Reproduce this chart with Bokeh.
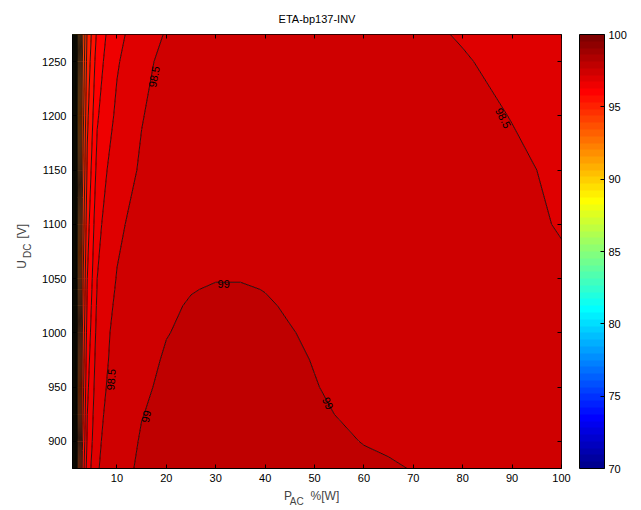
import numpy as np
from bokeh.plotting import figure
from bokeh.models import (Range1d, FixedTicker, LinearColorMapper, ColorBar,
                          Label, ColumnDataSource, LinearAxis)
from bokeh.core.properties import value
from bokeh.embed import file_html
from bokeh.resources import INLINE

# ---------------- data ----------------
title_text = "ETA-bp137-INV"
p_ac = [1, 2, 3, 4, 6, 8, 10, 15, 20, 25, 30, 35, 40, 45, 50, 55, 60, 65, 70, 80, 90, 100]
u_dc = [875, 900, 925, 950, 975, 1000, 1025, 1040, 1050, 1100, 1150, 1200, 1250, 1275]

eta_875 = [87.5, 94.2, 96.6, 97.75, 98.45, 98.7, 98.87, 99.06, 99.14, 99.18, 99.2, 99.2, 99.19, 99.16, 99.13, 99.1, 99.06, 99.03, 98.99, 98.93, 98.86, 98.79]
eta_900 = [87.3, 94.0, 96.45, 97.6, 98.4, 98.64, 98.82, 99.03, 99.12, 99.16, 99.18, 99.18, 99.16, 99.12, 99.08, 99.04, 98.99, 98.96, 98.94, 98.88, 98.81, 98.74]
eta_925 = [87.1, 93.8, 96.3, 97.5, 98.35, 98.58, 98.76, 98.99, 99.09, 99.14, 99.16, 99.15, 99.13, 99.09, 99.04, 98.99, 98.96, 98.93, 98.9, 98.83, 98.76, 98.69]
eta_950 = [87.0, 93.7, 96.2, 97.4, 98.28, 98.52, 98.72, 98.95, 99.06, 99.11, 99.13, 99.12, 99.1, 99.06, 99.01, 98.96, 98.93, 98.9, 98.88, 98.81, 98.74, 98.67]
eta_975 = [86.9, 93.6, 96.1, 97.3, 98.22, 98.47, 98.68, 98.91, 99.03, 99.09, 99.11, 99.1, 99.08, 99.04, 98.99, 98.95, 98.92, 98.89, 98.86, 98.79, 98.72, 98.65]
eta_1000 = [86.8, 93.5, 96.0, 97.2, 98.15, 98.45, 98.62, 98.86, 98.99, 99.05, 99.08, 99.07, 99.05, 99.01, 98.97, 98.93, 98.9, 98.87, 98.84, 98.77, 98.7, 98.63]
eta_1025 = [86.7, 93.4, 95.9, 97.1, 98.08, 98.4, 98.57, 98.8, 98.96, 99.02, 99.04, 99.04, 99.02, 98.98, 98.95, 98.92, 98.89, 98.86, 98.82, 98.75, 98.68, 98.6]
eta_1040 = [86.65, 93.35, 95.85, 97.05, 98.03, 98.36, 98.54, 98.77, 98.93, 98.99, 99.02, 99.02, 98.995, 98.95, 98.94, 98.9, 98.88, 98.84, 98.81, 98.74, 98.67, 98.59]
eta_1050 = [86.6, 93.3, 95.8, 97.0, 98.0, 98.33, 98.52, 98.75, 98.9, 98.97, 98.99, 98.99, 98.97, 98.95, 98.93, 98.9, 98.87, 98.84, 98.8, 98.73, 98.66, 98.58]
eta_1100 = [86.5, 93.1, 95.6, 96.8, 97.85, 98.18, 98.42, 98.66, 98.83, 98.92, 98.96, 98.97, 98.96, 98.94, 98.92, 98.89, 98.86, 98.83, 98.79, 98.71, 98.62, 98.47]
eta_1150 = [86.3, 92.9, 95.4, 96.6, 97.65, 98.0, 98.25, 98.56, 98.75, 98.85, 98.9, 98.92, 98.91, 98.89, 98.87, 98.84, 98.81, 98.78, 98.74, 98.66, 98.56, 98.44]
eta_1200 = [86.1, 92.7, 95.2, 96.4, 97.45, 97.8, 98.1, 98.48, 98.68, 98.78, 98.83, 98.85, 98.85, 98.83, 98.81, 98.78, 98.75, 98.72, 98.68, 98.6, 98.49, 98.4]
eta_1250 = [85.9, 92.5, 95.0, 96.2, 97.25, 97.65, 97.95, 98.4, 98.6, 98.7, 98.76, 98.78, 98.78, 98.76, 98.74, 98.71, 98.68, 98.65, 98.61, 98.52, 98.43, 98.35]
eta_1275 = [85.8, 92.4, 94.9, 96.1, 97.1, 97.55, 97.85, 98.3, 98.53, 98.64, 98.7, 98.72, 98.72, 98.7, 98.68, 98.65, 98.62, 98.59, 98.56, 98.48, 98.4, 98.32]

level_min, level_max, level_step = 85.5, 99.5, 0.5

# contour labels (text, position, angle in degrees)
clabel_text = ["98.5", "98.5", "99", "99", "99", "98.5"]
clabel_x = [17.5, 8.8, 15.9, 31.6, 52.7, 88.2]
clabel_y = [1236, 957, 923, 1045, 935, 1198]
clabel_angle = [79, 86, 78, 0, -65, -62]

x_ticks = [10, 20, 30, 40, 50, 60, 70, 80, 90, 100]
y_ticks = [900, 950, 1000, 1050, 1100, 1150, 1200, 1250]
cbar_ticks = [70, 75, 80, 85, 90, 95, 100]
cbar_low, cbar_high = 70, 100

# ---------------- colormap (MATLAB jet, 64 entries) ----------------
def jet(m=64):
    n = int(np.ceil(m / 4))
    u = np.concatenate([np.arange(1, n + 1) / n, np.ones(n - 1), np.arange(n, 0, -1) / n])
    g = int(np.ceil(n / 2)) - (1 if m % 4 == 1 else 0) + np.arange(1, len(u) + 1)
    r = g + n
    b = g - n
    cmap = np.zeros((m, 3))
    for ch, idx in enumerate([r, g, b]):
        ok = (idx >= 1) & (idx <= m)
        cmap[idx[ok] - 1, ch] = u[ok]
    return ["#%02x%02x%02x" % tuple(int(round(255 * c)) for c in row) for row in cmap]

jet64 = jet(64)

eta = np.array([eta_875, eta_900, eta_925, eta_950, eta_975, eta_1000, eta_1025,
                eta_1040, eta_1050, eta_1100, eta_1150, eta_1200, eta_1250, eta_1275])
levels = np.arange(level_min, level_max + 1e-9, level_step)
band_colors = []
for L in levels[:-1]:
    idx = int(round(2 * L - 138))
    idx = min(max(idx, 1), 64)
    band_colors.append(jet64[idx - 1])

FONT = "Liberation Sans"

p = figure(output_backend="svg", toolbar_location=None,
           frame_width=489, frame_height=434,
           x_range=Range1d(1, 100), y_range=Range1d(875, 1275),
           min_border_left=69, min_border_top=34, min_border_bottom=41,
           min_border_right=82)
p.background_fill_color = "white"
p.border_fill_color = "white"
p.outline_line_color = "black"
p.grid.visible = False

p.title.text = title_text
p.title.align = "center"
p.title.text_font = FONT
p.title.text_font_size = "11px"
p.title.text_font_style = "normal"
p.title.text_color = "black"
p.title.standoff = 20

p.contour(p_ac, u_dc, eta, levels=levels, fill_color=band_colors,
          line_color="black", line_width=0.8, line_alpha=1.0)

src = ColumnDataSource(dict(x=clabel_x, y=clabel_y, t=clabel_text, a=clabel_angle))
p.text(x="x", y="y", text="t", angle="a", angle_units="deg", source=src,
       text_font=value(FONT), text_font_size="11px", text_color="black",
       text_align="center", text_baseline="middle")

for ax in (p.xaxis, p.yaxis):
    ax.major_tick_in = 4
    ax.major_tick_out = 0
    ax.minor_tick_line_color = None
    ax.axis_line_color = "black"
    ax.major_tick_line_color = "black"
    ax.major_label_text_font = FONT
    ax.major_label_text_font_size = "11px"
    ax.major_label_text_color = "black"
p.xaxis.ticker = FixedTicker(ticks=x_ticks)
p.yaxis.ticker = FixedTicker(ticks=y_ticks)
p.xaxis.major_label_standoff = 5
p.yaxis.major_label_standoff = 6

# box ticks on top and right (no labels)
top_ax = LinearAxis(ticker=FixedTicker(ticks=x_ticks),
                    major_label_overrides={t: "" for t in x_ticks},
                    major_tick_in=4, major_tick_out=0, major_label_standoff=0,
                    minor_tick_line_color=None, axis_line_color=None,
                    major_tick_line_color="black")
p.add_layout(top_ax, "above")
right_ax = LinearAxis(ticker=FixedTicker(ticks=y_ticks),
                      major_label_overrides={t: "" for t in y_ticks},
                      major_tick_in=4, major_tick_out=0, major_label_standoff=0,
                      minor_tick_line_color=None, axis_line_color=None,
                      major_tick_line_color="black")
p.add_layout(right_ax, "right")

mapper = LinearColorMapper(palette=jet64, low=cbar_low, high=cbar_high)
cb = ColorBar(color_mapper=mapper, ticker=FixedTicker(ticks=cbar_ticks),
              width=25, height=434, padding=0, margin=0, location=(18, 0),
              major_tick_line_color="black", major_tick_in=4, major_tick_out=0,
              minor_tick_line_color=None, bar_line_color="black",
              border_line_color=None, background_fill_alpha=0,
              label_standoff=4, major_label_text_font=FONT,
              major_label_text_font_size="11px", major_label_text_color="black")
p.add_layout(cb, "right")

# axis labels with subscripts, placed in the side panels (data units via the frame scales)
p.add_layout(Label(x=43.8, y=849.5, text="P", text_font=FONT, text_font_size="12px",
                   text_align="left", text_baseline="alphabetic"), "below")
p.add_layout(Label(x=45.0, y=845.0, text="AC", text_font=FONT, text_font_size="10px",
                   text_align="left", text_baseline="alphabetic"), "below")
p.add_layout(Label(x=49.2, y=849.5, text="%[W]", text_font=FONT, text_font_size="12px",
                   text_align="left", text_baseline="alphabetic"), "below")
p.add_layout(Label(x=-9.2, y=1059.0, text="U", text_font=FONT, text_font_size="12px",
                   angle=90, angle_units="deg", text_align="left", text_baseline="alphabetic"), "left")
p.add_layout(Label(x=-8.2, y=1069.0, text="DC", text_font=FONT, text_font_size="10px",
                   angle=90, angle_units="deg", text_align="left", text_baseline="alphabetic"), "left")
p.add_layout(Label(x=-9.2, y=1087.0, text="[V]", text_font=FONT, text_font_size="12px",
                   angle=90, angle_units="deg", text_align="left", text_baseline="alphabetic"), "left")

open("out.html", "w").write(file_html(p, INLINE))
